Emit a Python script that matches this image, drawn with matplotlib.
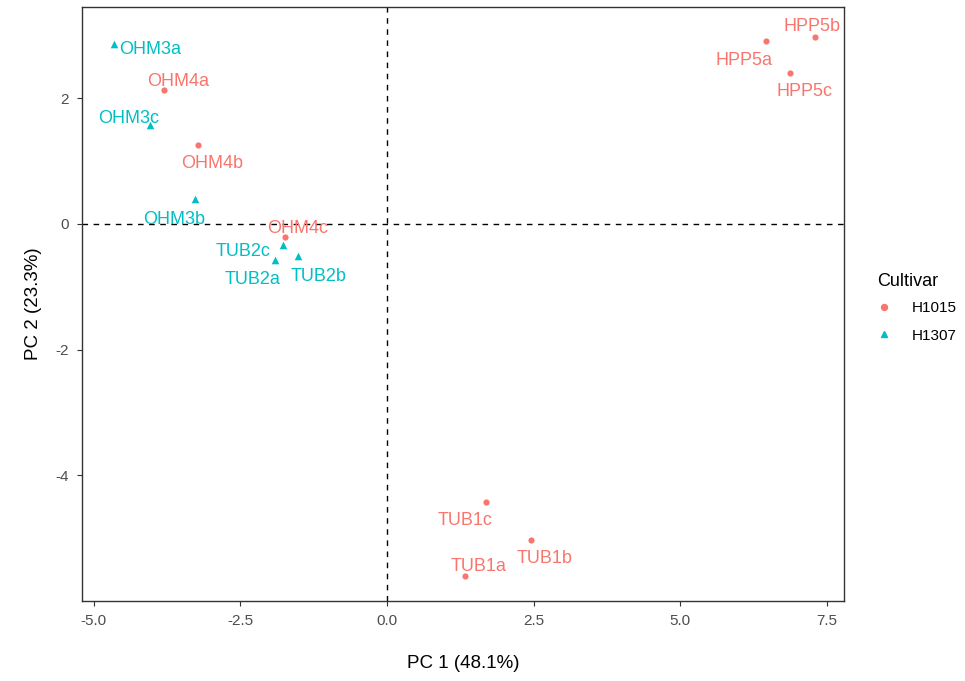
import matplotlib
matplotlib.use("Agg")
import matplotlib.pyplot as plt
from matplotlib.lines import Line2D

plt.rcParams['font.family'] = ['Liberation Sans', 'DejaVu Sans']

# ---- data ----
samples_h1015 = ["OHM4a", "OHM4b", "OHM4c", "HPP5a", "HPP5b", "HPP5c", "TUB1a", "TUB1b", "TUB1c"]
pc1_h1015 = [-3.81, -3.22, -1.74, 6.46, 7.30, 6.87, 1.33, 2.46, 1.69]
pc2_h1015 = [2.13, 1.25, -0.20, 2.91, 2.98, 2.40, -5.60, -5.03, -4.43]

samples_h1307 = ["OHM3a", "OHM3b", "OHM3c", "TUB2a", "TUB2b", "TUB2c"]
pc1_h1307 = [-4.65, -3.27, -4.04, -1.91, -1.52, -1.78]
pc2_h1307 = [2.86, 0.39, 1.57, -0.57, -0.51, -0.34]

cultivars = ["H1015", "H1307"]
x_label = "PC 1 (48.1%)"
y_label = "PC 2 (23.3%)"
x_ticks = [-5.0, -2.5, 0.0, 2.5, 5.0, 7.5]
y_ticks = [-4, -2, 0, 2]

# label offsets (pixels, text center relative to point; +dy = down)
offs_h1015 = [(15, -10.5), (14, 16.5), (12.7, -10), (-22, 17.4), (-3, -11.7),
              (14.3, 16.5), (13.3, -11), (13.7, 16.2), (-21.5, 16.4)]
offs_h1307 = [(36, 3.5), (-21, 18), (-21, -9), (-22.5, 18), (21, 18.5), (-40, 4)]

col1 = "#F8766D"
col2 = "#00BFC4"

fig = plt.figure(figsize=(9.65, 6.81), dpi=100)
ax = fig.add_axes([81.7/965, 1-601/681, (844.3-81.7)/965, (601-6.7)/681])

ax.axhline(0, color='black', lw=1.0, ls=(0, (4, 4)), zorder=1)
ax.axvline(0, color='black', lw=1.0, ls=(0, (4, 4)), zorder=1)

ax.scatter(pc1_h1015, pc2_h1015, marker='o', s=20, color=col1, linewidths=0, zorder=3)
ax.scatter(pc1_h1307, pc2_h1307, marker='^', s=30, color=col2, linewidths=0, zorder=3)

cap_half = 6.2
for names, xs, ys, offs, c in [(samples_h1015, pc1_h1015, pc2_h1015, offs_h1015, col1),
                               (samples_h1307, pc1_h1307, pc2_h1307, offs_h1307, col2)]:
    for n, x, y, (dx, dy) in zip(names, xs, ys, offs):
        ax.annotate(n, (x, y), xytext=(dx, -(dy + cap_half)), textcoords='offset pixels',
                    ha='center', va='baseline', fontsize=13, color=c, zorder=4)

ax.set_xlim(-5.206, 7.798)
ax.set_ylim(-5.998, 3.457)
ax.set_xticks(x_ticks)
ax.set_xticklabels([f"{t:.1f}" for t in x_ticks])
ax.set_yticks(y_ticks)
ax.set_yticklabels([str(t) for t in y_ticks])
ax.tick_params(length=3.6, width=0.8, color='#333333', labelcolor='#4D4D4D',
               labelsize=11, pad=5.5)
for s in ax.spines.values():
    s.set_color('#333333')
    s.set_linewidth(1.0)

ax.set_xlabel(x_label, fontsize=13.5, labelpad=20)
ax.set_ylabel(y_label, fontsize=13.5, labelpad=10)

handles = [Line2D([], [], marker='o', ls='', color=col1, markersize=4.3),
           Line2D([], [], marker='^', ls='', color=col2, markersize=5)]
leg = fig.legend(handles, cultivars, title="Cultivar", loc='upper left',
                 bbox_to_anchor=(863/965, 1-259/681), frameon=False,
                 fontsize=11, title_fontsize=13, handlelength=1.0,
                 handletextpad=1.3, labelspacing=0.9)
leg._legend_box.align = "left"
leg._legend_box.sep = 8

fig.savefig("out.png", dpi=100)
